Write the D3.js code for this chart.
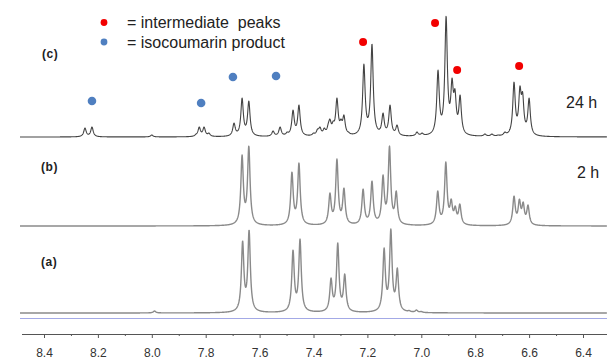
<!DOCTYPE html>
<html>
<head>
<meta charset="utf-8">
<script src="https://cdn.jsdelivr.net/npm/d3@7"></script>
<style>
  body { margin: 0; background: #fff; }
  svg { display: block; font-family: "Liberation Sans", Arial, sans-serif; }
</style>
</head>
<body>
<svg id="chart" width="607" height="360"></svg>
<script>
// peak lists: [ppm, height]
const peaksA = [
  [7.99, 2], [7.663, 72], [7.639, 83], [7.476, 63], [7.450, 74],
  [7.335, 35], [7.310, 70], [7.284, 39], [7.138, 65], [7.113, 84], [7.089, 45],
  [7.045, 2.5], [7.018, 3], [7.0, 1.5]
];
const peaksB = [
  [7.665, 71], [7.640, 80], [7.480, 54], [7.454, 63],
  [7.339, 33], [7.313, 67], [7.287, 38], [7.216, 37], [7.183, 45],
  [7.142, 51], [7.118, 80], [7.093, 35], [7.045, 1.5],
  [6.939, 35], [6.909, 64], [6.889, 27], [6.874, 20], [6.857, 22],
  [6.656, 30], [6.636, 27], [6.622, 24], [6.604, 21]
];
const peaksC = [
  [8.248, 9], [8.222, 10], [8.0, 2],
  [7.836, 3], [7.824, 10], [7.806, 10], [7.788, 4],
  [7.695, 14], [7.665, 39], [7.640, 36],
  [7.55, 6], [7.524, 10], [7.498, 5], [7.476, 27], [7.454, 32],
  [7.40, 4], [7.385, 8], [7.376, 10], [7.36, 9], [7.345, 14], [7.339, 18],
  [7.327, 16], [7.313, 39], [7.298, 18], [7.287, 22], [7.27, 5],
  [7.213, 73], [7.183, 93], [7.142, 24], [7.116, 32], [7.090, 12],
  [7.016, 5], [6.997, 4],
  [6.938, 67], [6.908, 121], [6.886, 59], [6.875, 48], [6.856, 42],
  [6.764, 3], [6.738, 3], [6.715, 2], [6.69, 5],
  [6.656, 55], [6.634, 51], [6.624, 45], [6.600, 39]
];

// markers above spectrum (c): [ppm, height]
const isocoumarinDots = [[8.222, 36], [7.817, 34], [7.699, 60], [7.539, 61]];
const intermediateDots = [[7.216, 95], [6.949, 114], [6.867, 67], [6.637, 71]];

const majorTicks = [8.4, 8.2, 8.0, 7.8, 7.6, 7.4, 7.2, 7.0, 6.8, 6.6, 6.4];
const minorTicks = [8.3, 8.1, 7.9, 7.7, 7.5, 7.3, 7.1, 6.9, 6.7, 6.5];
const tickLabels = ['8.4', '8.2', '8.0', '7.8', '7.6', '7.4', '7.2', '7.0', '6.8', '6.6', '6.4'];

const svg = d3.select('#chart');

const x = d3.scaleLinear().domain([8.4, 6.4]).range([44, 583]);
const axisY = 334;
const gamma = 0.0055;

const lor = d => 1 / (1 + (d / gamma) * (d / gamma));

// adjust amplitudes so the summed curve reaches the read heights at each peak
function fitAmps(peaks) {
  const amps = peaks.map(p => p[1]);
  for (let k = 0; k < 40; k++) {
    peaks.forEach((p, i) => {
      let s = 0;
      peaks.forEach((q, j) => { s += amps[j] * lor(p[0] - q[0]); });
      amps[i] *= p[1] / s;
    });
  }
  return amps;
}

function spectrum(peaks) {
  const amps = fitAmps(peaks);
  const lo = x.invert(607), hi = x.invert(20);
  const pts = [];
  for (let v = hi; v >= lo; v -= 0.0008) {
    let s = 0;
    peaks.forEach((p, j) => { s += amps[j] * lor(v - p[0]); });
    pts.push([v, s]);
  }
  return pts;
}

const traces = [
  { name: 'a', peaks: peaksA, base: 313, color: '#8a8a8a', width: 1.4 },
  { name: 'b', peaks: peaksB, base: 226, color: '#8a8a8a', width: 1.4 },
  { name: 'c', peaks: peaksC, base: 137, color: '#444', width: 1.1 }
];

traces.forEach(t => {
  const y = d3.scaleLinear().domain([0, 100]).range([t.base, t.base - 100]);
  t.y = y;
  const line = d3.line().x(d => x(d[0])).y(d => y(d[1]));
  svg.append('path')
    .attr('d', line(spectrum(t.peaks)))
    .attr('fill', 'none')
    .attr('stroke', t.color)
    .attr('stroke-width', t.width)
    .attr('stroke-linejoin', 'round');
});

// reference line under spectrum (a)
svg.append('line')
  .attr('x1', 20).attr('x2', 607).attr('y1', 318.5).attr('y2', 318.5)
  .attr('stroke', '#a3a9e6').attr('stroke-width', 1);

// x axis
svg.append('line')
  .attr('x1', 22).attr('x2', 607).attr('y1', axisY + 0.5).attr('y2', axisY + 0.5)
  .attr('stroke', '#555').attr('stroke-width', 1);

svg.append('g')
  .attr('transform', 'translate(0,' + axisY + ')')
  .call(d3.axisBottom(x).tickValues(minorTicks).tickSize(2).tickFormat(''))
  .call(g => g.select('.domain').remove())
  .call(g => g.selectAll('.tick line').attr('stroke', '#555'));

svg.append('g')
  .attr('transform', 'translate(0,' + axisY + ')')
  .call(d3.axisBottom(x).tickValues(majorTicks).tickSize(4).tickPadding(10)
    .tickFormat((d, i) => tickLabels[i]))
  .call(g => g.select('.domain').remove())
  .call(g => g.selectAll('.tick line').attr('stroke', '#555'))
  .call(g => g.selectAll('.tick text')
    .attr('fill', '#333')
    .style('font-size', '12px')
    .style('font-family', '"Liberation Sans", Arial, sans-serif'));

// markers over spectrum (c)
const yc = traces[2].y;
svg.selectAll('.iso-dot')
  .data(isocoumarinDots)
  .join('circle')
  .attr('class', 'iso-dot')
  .attr('cx', d => x(d[0]))
  .attr('cy', d => yc(d[1]))
  .attr('r', 4.3)
  .attr('fill', '#4f7fc0');

svg.selectAll('.int-dot')
  .data(intermediateDots)
  .join('circle')
  .attr('class', 'int-dot')
  .attr('cx', d => x(d[0]))
  .attr('cy', d => yc(d[1]))
  .attr('r', 4)
  .attr('fill', '#f20000');

// legend
svg.append('circle').attr('cx', 104).attr('cy', 22.5).attr('r', 3.4).attr('fill', '#f20000');
svg.append('circle').attr('cx', 104).attr('cy', 42).attr('r', 3.4).attr('fill', '#4f7fc0');
svg.append('text').attr('x', 127).attr('y', 27.5)
  .style('white-space', 'pre').style('font-size', '16px').attr('fill', '#222')
  .text('= intermediate  peaks');
svg.append('text').attr('x', 127).attr('y', 47.5)
  .style('font-size', '16px').attr('fill', '#222')
  .text('= isocoumarin product');

// spectrum labels
const labels = [
  { t: '(c)', x: 42, y: 57.5 },
  { t: '(b)', x: 41, y: 170.5 },
  { t: '(a)', x: 41, y: 265.5 }
];
labels.forEach(l => {
  svg.append('text').attr('x', l.x).attr('y', l.y)
    .style('font-size', '12px').style('font-weight', 'bold')
    .style('letter-spacing', '0.6px').attr('fill', '#222')
    .text(l.t);
});

svg.append('text').attr('x', 566).attr('y', 108)
  .style('font-size', '16px').attr('fill', '#222').text('24 h');
svg.append('text').attr('x', 577).attr('y', 178)
  .style('font-size', '16px').attr('fill', '#222').text('2 h');
</script>
</body>
</html>
